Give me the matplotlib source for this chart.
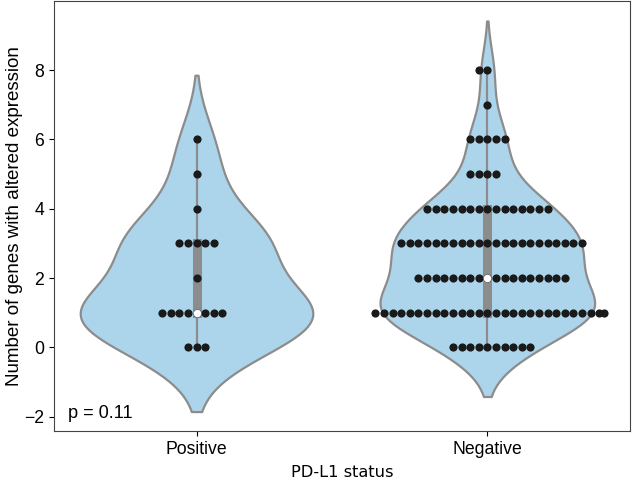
import matplotlib
matplotlib.use("Agg")
import matplotlib.pyplot as plt
import numpy as np
import pandas as pd
import seaborn as sns

# counts of patients per number of altered genes
groups = ["Positive", "Negative"]
gene_values = [0, 1, 2, 3, 4, 5, 6, 7, 8]
positive_counts = [3, 8, 1, 5, 1, 1, 1, 0, 0]
negative_counts = [10, 28, 18, 22, 15, 4, 5, 1, 2]
p_value = 0.11

rows = []
for group, counts in zip(groups, [positive_counts, negative_counts]):
    for v, n in zip(gene_values, counts):
        rows += [(group, v)] * n
df = pd.DataFrame(rows, columns=["status", "genes"])

fig, ax = plt.subplots(figsize=(6.33, 4.79), dpi=100)
fig.subplots_adjust(left=0.0853, right=0.995, top=0.997, bottom=0.1)

sns.violinplot(data=df, x="status", y="genes", order=groups, ax=ax,
               color="#acd5ec", saturation=1, linecolor="#8c8c8c", linewidth=1.6,
               inner="box", inner_kws=dict(box_width=6.5, whis_width=1.6, color="#8c8c8c"))
# hide seaborn's own median dots, redraw on top of the swarm
for coll in list(ax.collections)[2:]:
    coll.remove()
sns.swarmplot(data=df, x="status", y="genes", order=groups, ax=ax,
              color="#1a1a1a", size=5.9, zorder=3, warn_thresh=1)

medians = df.groupby("status")["genes"].median().reindex(groups)
ax.scatter(range(len(groups)), medians.values, s=30, color="white", zorder=4, linewidths=0)

ax.set_xlabel("PD-L1 status", fontsize=11.7, family="DejaVu Sans", labelpad=5)
ax.set_ylabel("Number of genes with altered expression", fontsize=13.5,
              family="Liberation Sans")
ax.yaxis.set_label_coords(-0.053, 0.50)
ax.tick_params(axis="both", labelsize=12.7)
for lab in ax.get_yticklabels() + ax.get_xticklabels():
    lab.set_family("Liberation Sans")
for sp in ax.spines.values():
    sp.set_color("#444444")
ax.text(0.024, 0.041, f"p = {p_value}", transform=ax.transAxes, fontsize=13.1,
        family="Liberation Sans", va="center")

fig.savefig("out.png", dpi=100)
